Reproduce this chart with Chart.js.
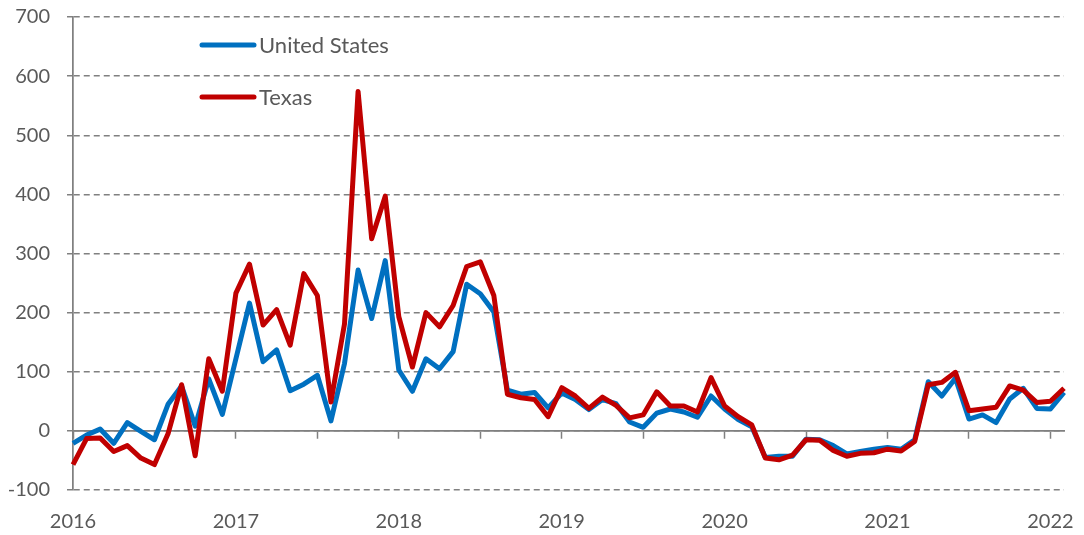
<!DOCTYPE html>
<html>
<head>
<meta charset="utf-8">
<script src="https://cdn.jsdelivr.net/npm/chart.js@4/dist/chart.umd.min.js"></script>
<style>
  html, body { margin: 0; padding: 0; background: #fff; }
  #wrap { width: 1084px; height: 535px; }
</style>
</head>
<body>
<div id="wrap"><canvas id="chart" width="1084" height="535"></canvas></div>
<script>
// monthly series, Jan 2016 .. Feb 2022
const years = ['2016', '2017', '2018', '2019', '2020', '2021', '2022'];
const monthCount = 74;

const unitedStates = [
  -21, -7, 3, -21, 14, -1, -15, 45, 76, 8, 88, 28,
  122, 216, 117, 137, 68, 79, 94, 17, 114, 272, 190, 288,
  103, 67, 122, 105, 134, 248, 232, 201, 69, 62, 65, 39,
  64, 53, 36, 53, 46, 15, 6, 30, 37, 32, 23, 59,
  37, 19, 7, -45, -43, -43, -14, -15, -25, -39, -35, -31,
  -28, -31, -15, 83, 59, 89, 20, 27, 14, 54, 72, 38,
  37, 65
];

const texas = [
  -57, -13, -12, -35, -25, -46, -57, -5, 78, -42, 122, 67,
  233, 282, 179, 205, 145, 266, 229, 49, 181, 574, 325, 397,
  193, 108, 200, 176, 212, 278, 286, 229, 62, 56, 53, 24,
  73, 59, 38, 57, 43, 22, 27, 66, 42, 42, 32, 90,
  42, 24, 10, -46, -49, -41, -15, -16, -33, -43, -38, -37,
  -31, -34, -18, 78, 82, 99, 34, 37, 40, 76, 69, 48,
  50, 72
];

const labels = [];
for (let i = 0; i < monthCount; i++) {
  labels.push(years[Math.floor(i / 12)] + '-' + String(i % 12 + 1).padStart(2, '0'));
}

const GREY = '#808080';
const TEXT = '#595959';
const FONT = { family: 'Lato, "Open Sans", sans-serif', size: 20 };

// legend drawn inside the plot, top-left
const insideLegend = {
  id: 'insideLegend',
  afterDatasetsDraw(chart) {
    const ctx = chart.ctx;
    chart.data.datasets.forEach((ds, i) => {
      const y = 45 + i * 52;
      ctx.save();
      ctx.strokeStyle = ds.borderColor;
      ctx.lineWidth = 5;
      ctx.lineCap = 'round';
      ctx.beginPath();
      ctx.moveTo(202, y);
      ctx.lineTo(254, y);
      ctx.stroke();
      ctx.fillStyle = TEXT;
      ctx.font = '22px ' + FONT.family;
      ctx.textBaseline = 'middle';
      ctx.fillText(ds.label, 259, y + 1);
      ctx.restore();
    });
  }
};

new Chart(document.getElementById('chart'), {
  type: 'line',
  data: {
    labels: labels,
    datasets: [
      {
        label: 'United States',
        data: unitedStates,
        borderColor: '#0070C0',
        borderWidth: 5,
        pointRadius: 0,
        tension: 0,
        borderJoinStyle: 'round',
        order: 1
      },
      {
        label: 'Texas',
        data: texas,
        borderColor: '#C00000',
        borderWidth: 5,
        pointRadius: 0,
        tension: 0,
        borderJoinStyle: 'round',
        order: 0
      }
    ]
  },
  options: {
    responsive: false,
    animation: false,
    layout: { padding: { top: 17, right: 17, left: 0, bottom: 0 } },
    plugins: {
      legend: { display: false },
      tooltip: { enabled: false }
    },
    scales: {
      x: {
        type: 'category',
        offset: false,
        border: { display: false },
        grid: { display: false, drawTicks: false },
        ticks: {
          autoSkip: false,
          maxRotation: 0,
          padding: 20,
          color: TEXT,
          font: FONT,
          callback: (v, i) => (i % 12 === 0 ? years[i / 12] : '')
        },
        afterFit: (scale) => { scale.height = 45; }
      },
      // zero line with half-year tick marks
      x2: {
        type: 'category',
        offset: false,
        position: { y: 0 },
        border: { display: true, color: GREY, width: 1.75 },
        grid: {
          drawOnChartArea: false,
          drawTicks: true,
          tickLength: 7,
          tickWidth: 1.5,
          tickColor: (c) => (c.index % 6 === 0 ? GREY : 'rgba(0,0,0,0)')
        },
        ticks: { display: false, autoSkip: false },
        afterFit: (scale) => { scale.height = 0; }
      },
      y: {
        min: -100,
        max: 700,
        border: { display: true, color: GREY, width: 1.75, dash: [6, 4] },
        grid: {
          color: GREY,
          lineWidth: 1.5,
          drawTicks: true,
          tickLength: 6,
          tickColor: GREY,
          tickWidth: 1.5
        },
        ticks: {
          stepSize: 100,
          padding: 17,
          color: TEXT,
          font: FONT
        },
        afterFit: (scale) => {
          scale.width = 73;
          scale.paddingTop = 0;
          scale.paddingBottom = 0;
        }
      }
    }
  },
  plugins: [insideLegend]
});
</script>
</body>
</html>
